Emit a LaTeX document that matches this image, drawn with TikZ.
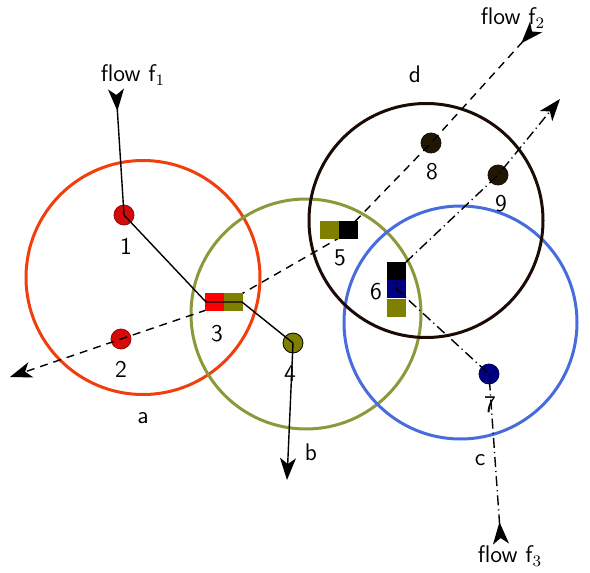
\documentclass[tikz,border=0pt]{standalone}
\usetikzlibrary{arrows.meta}
\definecolor{cA}{RGB}{240,62,12}
\definecolor{cB}{RGB}{140,152,58}
\definecolor{cC}{RGB}{72,108,222}
\definecolor{cD}{RGB}{28,10,4}
\definecolor{dotred}{RGB}{215,10,10}
\definecolor{olv}{RGB}{128,128,0}
\definecolor{nvy}{RGB}{0,0,128}
\definecolor{dk}{RGB}{32,22,4}
\begin{document}
\begin{tikzpicture}[x=0.5pt,y=-0.5pt,
  region/.style={circle,draw=#1,line width=1.5pt,inner sep=0pt},
  dotnode/.style={circle,minimum size=10pt,inner sep=0pt,draw=#1!70!black,fill=#1,line width=0.4pt},
  sq/.style={rectangle,minimum width=9.5pt,minimum height=9pt,inner sep=0pt,fill=#1},
  lab/.style={font=\sffamily\fontsize{12}{14}\selectfont,inner sep=0pt},
  flowline/.style={line width=0.7pt,{Stealth[reversed,length=11pt,width=8pt,inset=3pt]}-{Stealth[length=11pt,width=8pt,inset=3pt]}},
  ftwo/.style={flowline,dash pattern=on 4pt off 3pt},
  fthree/.style={flowline,dash pattern=on 5pt off 2pt on 0.6pt off 2pt}]
\useasboundingbox (0,0) rectangle (590,573);
% regions
\node[region=cA,minimum size=117pt] (ra) at (143,277.5) {};
\node[region=cB,minimum size=115pt] (rb) at (306,314) {};
\node[region=cC,minimum size=116.5pt] (rc) at (460.5,322.5) {};
\node[region=cD,minimum size=117pt] (rd) at (426,220.5) {};
% dots
\node[dotnode=dotred] (n1) at (124,215) {};
\node[dotnode=dotred] (n2) at (121,339) {};
\node[dotnode=olv,draw=black] (n4) at (293,343) {};
\node[dotnode=nvy] (n7) at (489,374) {};
\node[dotnode=dk] (n8) at (431,143) {};
\node[dotnode=dk] (n9) at (498,175) {};
% ports and free ends
\coordinate (p5) at (339,238);
\coordinate (p3) at (224,304);
\coordinate (p3w) at (206,302);
\coordinate (p3e) at (242,302);
\coordinate (p6n) at (396.5,289);
\coordinate (p6k) at (396.5,271);
\coordinate (f1s) at (116,89);
\coordinate (f1e) at (287,480);
\coordinate (f2s) at (536,27);
\coordinate (f2e) at (10,377);
\coordinate (f3s) at (501,544);
\coordinate (f3e) at (560,99);
% flow f2
\draw[ftwo] (f2s) -- (n8.center) -- (p5) -- (p3) -- (n2.center) -- (f2e);
% squares
\node[sq=red] (n3r) at (214.5,302) {};
\node[sq=olv] (n3o) at (233.5,302) {};
\node[sq=olv] (n5o) at (329.5,230) {};
\node[sq=black] (n5k) at (348.5,230) {};
\node[sq=black] (n6k) at (396.5,271) {};
\node[sq=nvy] (n6n) at (396.5,289) {};
\node[sq=olv] (n6o) at (396.5,307.5) {};
% flow f3
\draw[fthree] (f3s) -- (n7.center) -- (p6n) -- (p6k) -- (n9.center) -- (f3e);
% flow f1
\draw[flowline] (f1s) -- (n1.center) -- (p3w) -- (p3e) -- (n4.center) -- (f1e);
% labels
\node[lab] (l1) at (126,246) {1};
\node[lab] (l2) at (121,369) {2};
\node[lab] (l3) at (217,334) {3};
\node[lab] (l4) at (290,374) {4};
\node[lab] (l5) at (340,258) {5};
\node[lab] (l6) at (376,292) {6};
\node[lab] (l7) at (490,405) {7};
\node[lab] (l8) at (432,172) {8};
\node[lab] (l9) at (501,204) {9};
\node[lab] (la) at (143,418) {a};
\node[lab] (lb) at (311,452) {b};
\node[lab] (lc) at (480,460) {c};
\node[lab] (ld) at (415,74) {d};
\node[lab] (lf1) at (133,75) {flow f$_1$};
\node[lab] (lf2) at (513,18) {flow f$_2$};
\node[lab] (lf3) at (510,556) {flow f$_3$};
\end{tikzpicture}
\end{document}
